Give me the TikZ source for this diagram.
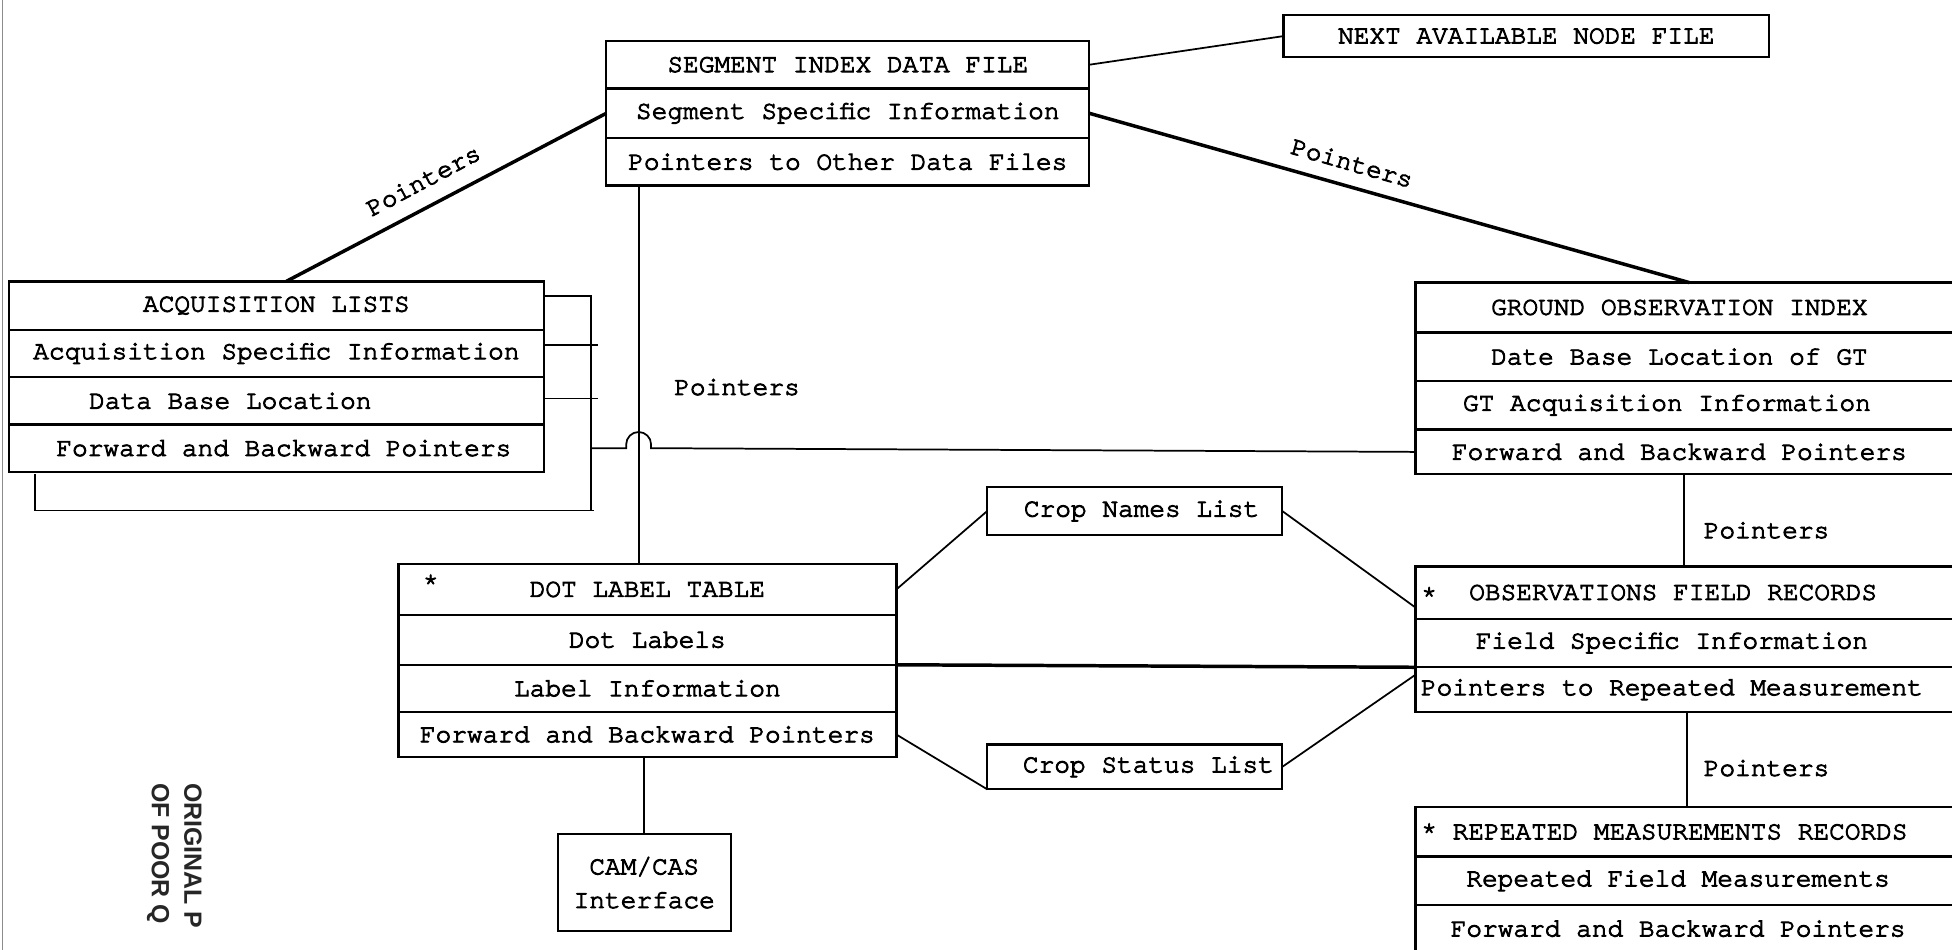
\documentclass[tikz,border=0pt]{standalone}
\usepackage{fontspec}
\usetikzlibrary{calc}
\newfontfamily\typew{texgyrecursor-regular.otf}[FakeBold=3.5]
\newfontfamily\stampfont{Liberation Sans Bold}

\begin{document}
\begin{tikzpicture}[x=1pt,y=-1pt,
  every node/.style={inner sep=0pt, outer sep=0pt},
  txt/.style={font=\typew\fontsize{21}{27}\selectfont},
  cell/.style 2 args={txt, draw, line width=1.9pt, minimum width=#1, minimum height=#2},
  conn/.style={line width=1.4pt},
  heavy/.style={line width=2.8pt},
  stamp/.style={font=\stampfont\fontsize{20}{22}\selectfont, text=black!85}]

\useasboundingbox (0,0) rectangle (1568,763);
\fill[white] (0,0) rectangle (1568,763);
\clip (0,0) rectangle (1568,763);

% scan edge at the left margin
\draw[black!45, line width=0.7pt] (2,0) -- (2,763);

% ---- segment index data file ----
\node[cell={388}{38}] (seg1) at (681,52)  {SEGMENT INDEX DATA FILE};
\node[cell={388}{40}] (seg2) at (681,91)  {Segment Specific Information};
\node[cell={388}{38}] (seg3) at (681,130) {Pointers to Other Data Files};

\node[cell={390}{34}] (next) at (1226,29) {NEXT AVAILABLE NODE FILE};

% ---- acquisition lists ----
\node[cell={430}{39}] (acq1) at (222,245.5) {ACQUISITION LISTS};
\node[cell={430}{38}] (acq2) at (222,284)   {Acquisition Specific Information};
\node[cell={430}{38}] (acq3) at (222,322)   {Data Base Location\hspace*{74pt}};
\node[cell={430}{38}] (acq4) at (222,360)   {\hspace*{12pt}Forward and Backward Pointers};

% ---- ground observation index ----
\node[cell={453}{40}] (gro1) at (1363.5,247)   {GROUND OBSERVATION INDEX\hspace*{29pt}};
\node[cell={453}{39}] (gro2) at (1363.5,286.5) {Date Base Location of GT\hspace*{29pt}};
\node[cell={453}{39}] (gro3) at (1363.5,325.5) {GT Acquisition Information\hspace*{49pt}};
\node[cell={453}{36}] (gro4) at (1363.5,363)   {Forward and Backward Pointers\hspace*{29pt}};

% ---- observations field records ----
\node[cell={453}{42}] (obs1) at (1363.5,476)   {OBSERVATIONS FIELD RECORDS\hspace*{39pt}};
\node[cell={453}{39}] (obs2) at (1363.5,516.5) {Field Specific Information\hspace*{41pt}};
\node[cell={453}{36}] (obs3) at (1363.5,554)   {Pointers to Repeated Measurement\hspace*{41pt}};
\node[txt] (obsstar) at (1148,478) {*};

% ---- repeated measurements records ----
\node[cell={453}{40}] (rep1) at (1363.5,668)   {* REPEATED MEASUREMENTS RECORDS\hspace*{53pt}};
\node[cell={453}{39}] (rep2) at (1363.5,707.5) {Repeated Field Measurements\hspace*{31pt}};
\node[cell={453}{38}] (rep3) at (1363.5,746)   {Forward and Backward Pointers\hspace*{31pt}};

% ---- dot label table ----
\node[cell={400}{41}] (dot1) at (520,473.5) {DOT LABEL TABLE};
\node[cell={400}{40}] (dot2) at (520,514)   {Dot Labels};
\node[cell={400}{38}] (dot3) at (520,553)   {Label Information};
\node[cell={400}{36}] (dot4) at (520,590)   {Forward and Backward Pointers};
\node[txt] (dotstar) at (346,468) {*};

% ---- small lists and interface ----
\node[cell={237}{39}] (cropn) at (911.5,410.5) {\hspace*{11pt}Crop Names List};
\node[cell={237}{36}] (crops) at (911.5,616)   {\hspace*{22pt}Crop Status List};
\node[cell={139}{78}, align=center] (cam) at (517.5,709) {CAM/CAS\\Interface};

% ---- connectors ----
\draw[conn] (seg1.east) -- (next.west);

\coordinate (gtop) at ($(gro1.north west)+(220,0)$);
\coordinate (atop) at ($(acq1.north)+(8,0)$);
\draw[heavy] (seg2.east) -- (gtop);
\draw[heavy] (seg2.west) -- (atop);

% drop from the segment file to the dot label table
\coordinate (sdrop) at ($(seg3.south west)+(26,0)$);
\draw[conn] (sdrop) -- (sdrop |- dot1.north);

% bracket along the acquisition lists
\coordinate (br) at ($(acq4.south east)+(38,31)$);
\coordinate (bl) at ($(acq4.south west)+(21,2)$);
\draw[conn] ($(acq1.north east)+(0,12)$) -| (br);
\draw[conn] (bl) |- ($(br)+(2,0)$);
\draw[conn] ($(acq2.east)+(0,-7)$) -- ++(43,0);
\draw[conn] ($(acq3.east)+(0,-2)$) -- ++(43,0);

% line to the ground observation index, hopping over the drop
\draw[conn] (br |- acq4.east) -- ($(sdrop |- acq4.east)+(-10,0)$)
  -- ++(0,-3) arc[start angle=180, end angle=0, radius=10pt] -- ++(0,3) -- (gro4.west);

% chain on the right side
\coordinate (gdrop) at ($(gro4.south west)+(216,0)$);
\draw[conn] (gdrop) -- (gdrop |- obs1.north);
\coordinate (odrop) at ($(obs3.south west)+(218,0)$);
\draw[conn] (odrop) -- (odrop |- rep1.north);

% dot label table links
\draw[heavy] (dot2.south east) -- (obs2.south west);
\draw[conn] (dot1.east) -- (cropn.west);
\draw[conn] (cropn.east) -- ($(obs1.west)+(0,12)$);
\draw[conn] (dot4.east) -- (crops.south west);
\draw[conn] (crops.east) -- ($(obs3.north west)+(0,6)$);
\draw[conn] (cam.north |- dot4.south) -- (cam.north);

% ---- labels ----
\node[txt] (lp1) at (592,311) {Pointers};
\node[txt] (lp2) at (1419,426) {Pointers};
\node[txt] (lp3) at (1419,617) {Pointers};
\node[txt, rotate=28] (lp4) at (340,145) {Pointers};
\node[txt, rotate=-16] (lp5) at (1086,131) {Pointers};

% ---- stamp ----
\node[stamp, rotate=-90, anchor=west] (st1) at (155,629) {ORIGINAL P};
\node[stamp, rotate=-90, anchor=west] (st2) at (127,629) {OF POOR Q};

\end{tikzpicture}
\end{document}
